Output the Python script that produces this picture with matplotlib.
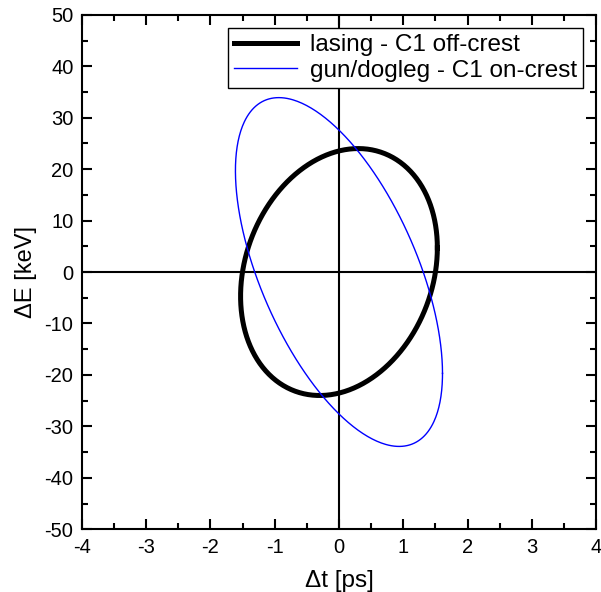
import numpy as np
import matplotlib
matplotlib.use("Agg")
import matplotlib.pyplot as plt
from matplotlib.ticker import MultipleLocator

plt.rcParams['font.family'] = ['Liberation Sans', 'DejaVu Sans']
plt.rcParams['axes.unicode_minus'] = False

# ellipse readings: max dt, dE at max dt, max dE, dt at max dE
labels = ["lasing - C1 off-crest", "gun/dogleg - C1 on-crest"]
t_max = [1.53, 1.61]
E_at_tmax = [4.7, -19.7]
E_max = [24.0, 33.9]
t_at_Emax = [0.30, -0.95]
colors = ["black", "blue"]
widths = [3.6, 1.0]

fig = plt.figure(figsize=(6.01, 5.92), dpi=100)
ax = fig.add_axes([0.136, 0.106, 0.856, 0.869])

theta = np.linspace(0, 2 * np.pi, 400)
for i in range(2):
    phi = np.arccos(E_at_tmax[i] / E_max[i])
    t = t_max[i] * np.cos(theta)
    e = E_max[i] * np.cos(theta - phi)
    ax.plot(t, e, color=colors[i], lw=widths[i], label=labels[i])

ax.axhline(0, color="black", lw=1.5, zorder=0)
ax.axvline(0, color="black", lw=1.5, zorder=0)

ax.set_xlim(-4, 4)
ax.set_ylim(-50, 50)
ax.xaxis.set_major_locator(MultipleLocator(1))
ax.xaxis.set_minor_locator(MultipleLocator(0.5))
ax.yaxis.set_major_locator(MultipleLocator(10))
ax.yaxis.set_minor_locator(MultipleLocator(5))
ax.tick_params(which="both", direction="in", top=True, right=True, labelsize=14.5, width=1.5)
ax.tick_params(which="major", length=7.5, pad=6)
ax.tick_params(which="minor", length=4)
for s in ax.spines.values():
    s.set_linewidth(1.5)

ax.set_xlabel("\u0394t [ps]", fontsize=17.5, labelpad=10)
ax.set_ylabel("\u0394E [keV]", fontsize=17, labelpad=5)

leg = ax.legend(loc="upper right", fontsize=17.5, fancybox=False, framealpha=1,
                edgecolor="black", handlelength=2.6, handletextpad=0.5,
                borderpad=0.25, labelspacing=0.15, borderaxespad=0.55)
leg.get_frame().set_linewidth(1.0)

fig.savefig("out.png", dpi=100)
